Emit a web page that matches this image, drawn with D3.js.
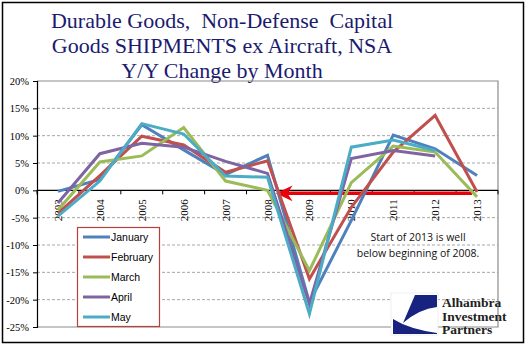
<!DOCTYPE html>
<html>
<head>
<meta charset="utf-8">
<script src="https://cdn.jsdelivr.net/npm/d3@7"></script>
<style>
  html, body { margin: 0; padding: 0; background: #fff; }
  svg { display: block; }
</style>
</head>
<body>
<svg id="chart" width="532" height="358"></svg>
<script>
const years = ["2003","2004","2005","2006","2007","2008","2009","2010","2011","2012","2013"];
const january  = [-0.2, 2.0, 12.0, 7.4, 2.9, 6.4, -20.5, -5.5, 10.1, 7.6, 2.7];
const february = [-4.2, 2.7, 9.9, 8.3, 3.3, 5.4, -16.2, -3.1, 7.0, 13.7, -0.3];
const march    = [-3.6, 5.2, 6.3, 11.5, 1.7, 0.0, -14.7, 1.4, 8.1, 7.0, -1.2];
const april    = [-2.3, 6.7, 8.6, 7.9, 5.3, 3.1, -20.8, 5.8, 7.3, 6.3, null];
const may      = [-4.7, 1.7, 12.2, 10.3, 2.6, 2.4, -22.6, 7.9, 9.2, 7.3, null];
const seriesNames = ["January","February","March","April","May"];
const seriesColors = ["#4F81BD","#C0504D","#9BBB59","#8064A2","#4BACC6"];
const yTicks = [-25,-20,-15,-10,-5,0,5,10,15,20];
const titleLines = ["Durable Goods,  Non-Defense  Capital", "Goods SHIPMENTS ex Aircraft, NSA", "Y/Y Change by Month"];
const noteLines = ["Start of 2013 is well", "below beginning of 2008."];
const logoLines = ["Alhambra","Investment","Partners"];
const arrowLevel = -0.55;
const arrowFrom = "2013", arrowTo = "2008";

const seriesValues = [january, february, march, april, may];
const svg = d3.select("#chart");

// outer frame
svg.append("rect").attr("x", 2.5).attr("y", 2.5).attr("width", 521).attr("height", 340)
  .attr("fill", "#fff").attr("stroke", "#000").attr("stroke-width", 1.5);

// title
const title = svg.append("text").attr("font-family", "Liberation Serif, Times New Roman, serif")
  .attr("font-size", 22).attr("fill", "#1b1b6e").attr("text-anchor", "middle")
  .attr("style", "white-space:pre");
titleLines.forEach((t, i) => {
  title.append("tspan").attr("x", 222).attr("y", 28 + i * 25).text(t);
});

const L = 37, R = 498, T = 81, B = 327;
const x = d3.scalePoint().domain(years).range([L, R]).padding(0.5);
const y = d3.scaleLinear().domain([-25, 20]).range([B, T]);
const step = x.step();

// gridlines
svg.append("g").selectAll("line").data(yTicks.filter(v => v !== 0 && v !== 20 && v !== -25)).join("line")
  .attr("x1", L).attr("x2", R).attr("y1", d => y(d)).attr("y2", d => y(d))
  .attr("stroke", "#a6a6a6").attr("stroke-width", 1).attr("stroke-dasharray", "3,2");

// plot border (top, right, bottom) gray
svg.append("path")
  .attr("d", `M${L},${y(20)}H${R}V${y(-25)}H${L}`)
  .attr("fill", "none").attr("stroke", "#8c8c8c").attr("stroke-width", 1.2);

// y axis
const yAxis = d3.axisLeft(y).tickValues(yTicks).tickSize(4).tickPadding(4).tickFormat(d => d + "%");
const gy = svg.append("g").attr("transform", `translate(${L},0)`).call(yAxis);
gy.select(".domain").attr("stroke", "#000").attr("stroke-width", 1.2);
gy.selectAll(".tick line").attr("stroke", "#000");
gy.selectAll("text").attr("font-family", "Liberation Serif, Times New Roman, serif")
  .attr("font-size", 10.5).attr("fill", "#000");

// x axis at zero line
const y0 = y(0);
svg.append("line").attr("x1", L).attr("x2", R).attr("y1", y0).attr("y2", y0)
  .attr("stroke", "#000").attr("stroke-width", 1.3);
const tickPos = years.map(d => x(d) - step / 2).concat([x(years[years.length - 1]) + step / 2]);
svg.append("g").selectAll("line").data(tickPos).join("line")
  .attr("x1", d => d).attr("x2", d => d).attr("y1", y0).attr("y2", y0 + 4)
  .attr("stroke", "#000").attr("stroke-width", 1);
svg.append("g").selectAll("text").data(years).join("text")
  .attr("transform", d => `translate(${x(d) + 4},${y0 + 9}) rotate(-90)`)
  .attr("text-anchor", "end")
  .attr("font-family", "Liberation Serif, Times New Roman, serif")
  .attr("font-size", 11).attr("fill", "#000").text(d => d);

// red arrow
const ay = y(arrowLevel);
const tipX = x(arrowTo) + 10;
svg.append("line").attr("x1", x(arrowFrom) - 5).attr("x2", tipX + 9).attr("y1", ay).attr("y2", ay)
  .attr("stroke", "#e8000b").attr("stroke-width", 3.5);
svg.append("path")
  .attr("d", `M${tipX},${ay}L${tipX + 13},${ay - 6}L${tipX + 9},${ay}L${tipX + 13},${ay + 6}Z`)
  .attr("fill", "#e8000b").attr("stroke", "#e8000b").attr("stroke-width", 1.5).attr("stroke-linejoin", "miter");

// lines
const line = d3.line().defined(d => d.v !== null).x(d => x(d.year)).y(d => y(d.v));
seriesValues.forEach((vals, i) => {
  const pts = years.map((yr, j) => ({ year: yr, v: vals[j] }));
  svg.append("path").datum(pts).attr("d", line)
    .attr("fill", "none").attr("stroke", seriesColors[i]).attr("stroke-width", 3)
    .attr("stroke-linejoin", "miter").attr("stroke-linecap", "butt");
});

// legend
const lg = svg.append("g");
lg.append("rect").attr("x", 77.5).attr("y", 227.5).attr("width", 82).attr("height", 99)
  .attr("fill", "#fff").attr("stroke", "#b8403c").attr("stroke-width", 1.2);
seriesNames.forEach((n, i) => {
  const yy = 237 + i * 20;
  lg.append("line").attr("x1", 83).attr("x2", 110).attr("y1", yy).attr("y2", yy)
    .attr("stroke", seriesColors[i]).attr("stroke-width", 3);
  lg.append("text").attr("x", 111).attr("y", yy + 4)
    .attr("font-family", "Liberation Sans, Arial, sans-serif").attr("font-size", 10.5)
    .attr("fill", "#000").text(n);
});

// annotation
const note = svg.append("text").attr("font-family", "Open Sans, Liberation Sans, sans-serif")
  .attr("font-size", 10.5).attr("fill", "#111").attr("text-anchor", "middle");
noteLines.forEach((t, i) => note.append("tspan").attr("x", 418).attr("y", 241 + i * 16).text(t));

// logo
const lx = 391, ly = 293;
const logo = svg.append("g").attr("transform", `translate(${lx},${ly})`);
logo.append("rect").attr("x", 0).attr("y", 0).attr("width", 47).attr("height", 42)
  .attr("fill", "#fff").attr("stroke", "#ddd").attr("stroke-width", 0.5);
logo.append("path").attr("d", "M24,2 L46,2 L46,14 Q28,16 12,30 Z").attr("fill", "#18237f");
logo.append("path").attr("d", "M2,26 Q18,36 46,40 L46,41 L2,41 Z").attr("fill", "#18237f");
logoLines.forEach((t, i) =>
  svg.append("text").attr("x", 442).attr("y", 307 + i * 13.5)
    .attr("font-family", "Liberation Serif, Times New Roman, serif")
    .attr("font-size", 13.5).attr("font-weight", "bold").attr("fill", "#222").text(t));
</script>
</body>
</html>
